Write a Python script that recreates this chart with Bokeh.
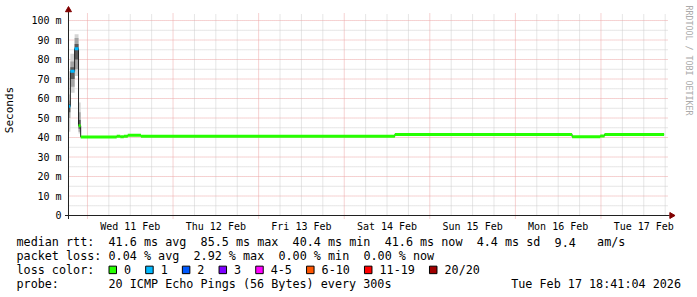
from math import pi
from bokeh.plotting import figure
from bokeh.layouts import column, row
from bokeh.models import Range1d, FixedTicker
from bokeh.core.properties import value
from bokeh.embed import file_html
from bokeh.resources import INLINE

# ---------------- data (hours since Wed 11 Feb 00:00, milliseconds) ----------------
range_start_h = -5.32
range_end_h = 162.68

seg_start_h = [-5.32, -4.8, -3.6, -2.5, -1.9, 8.2, 9.2, 10.2, 11.3, 15.0, 86.2, 135.9, 143.8, 145.0]
seg_last_end_h = 161.7
median_ms = [56.0, 74.0, 85.5, 46.0, 40.3, 40.7, 40.4, 40.7, 41.2, 40.6, 41.6, 40.4, 40.8, 41.6]
loss_count = [1, 1, 1, 0, 0, 0, 0, 0, 0, 0, 0, 0, 0, 0]

smoke_start_h = [-5.32, -4.8, -3.6, -2.5]
smoke_end_h = [-4.8, -3.6, -2.5, -1.9]
smoke_outer_lo = [43.0, 63.0, 71.5, 42.0]
smoke_outer_hi = [62.0, 83.0, 93.0, 58.0]
smoke_mid_lo = [50.0, 66.0, 75.0, 43.0]
smoke_mid_hi = [59.0, 79.0, 91.0, 53.0]
smoke_in_lo = [53.0, 70.0, 80.0, 44.5]
smoke_in_hi = [57.0, 76.0, 88.0, 49.0]

loss_labels = ["0", "1", "2", "3", "4-5", "6-10", "11-19", "20/20"]
loss_colors = ["#26ff00", "#00b8ff", "#0059ff", "#7e00ff", "#ff00ff", "#ff5500", "#ff0000", "#a00000"]

day_noon_h = [12, 36, 60, 84, 108, 132, 156]
day_labels = ["Wed 11 Feb", "Thu 12 Feb", "Fri 13 Feb", "Sat 14 Feb", "Sun 15 Feb", "Mon 16 Feb", "Tue 17 Feb"]
midnight_h = [0, 24, 48, 72, 96, 120, 144]
six_hour_h = [h for h in range(6, 163, 6) if h % 24 != 0]

y_ticks_ms = [0, 10, 20, 30, 40, 50, 60, 70, 80, 90, 100]
y_tick_labels = ["0", "10 m", "20 m", "30 m", "40 m", "50 m", "60 m", "70 m", "80 m", "90 m", "100 m"]
y_minor_ms = [5, 15, 25, 35, 45, 55, 65, 75, 85, 95]
y_top_ms = 103.6

row1_items = ["median rtt:", "41.6 ms avg", "85.5 ms max", "40.4 ms min", "41.6 ms now", "4.4 ms sd", "9.4", "am/s"]
row1_cols = [0, 13, 26, 39, 52, 65, 76, 82]
row2_items = ["packet loss:", "0.04 % avg", "2.92 % max", "0.00 % min", "0.00 % now"]
row2_cols = [0, 13, 25, 37, 49]
row3_title = "loss color:"
row4_items = ["probe:", "20 ICMP Echo Pings (56 Bytes) every 300s"]
row4_cols = [0, 13]
timestamp = "Tue Feb 17 18:41:04 2026"
y_unit_label = "Seconds"
watermark = "RRDTOOL / TOBI OETIKER"

# ---------------- pixel geometry of the reference ----------------
W = 697
H1 = 235
PL, PR, PT, PB = 66, 667, 13, 215          # rrdtool plot area
FL, FR, FT, FB = 62, 697, 0, 219           # bokeh frame (slightly larger, for arrows / watermark)
XS = (PR - PL) / (range_end_h - range_start_h)   # px per hour
YS = (PB - PT) / y_top_ms                         # px per ms
MONO = "DejaVu Sans Mono"


def px_x(px):
    return range_start_h + (px - PL) / XS


def px_y(py):
    return (PB - py) / YS


def loss_class(n):
    if n <= 3:
        return n
    if n <= 5:
        return 4
    if n <= 10:
        return 5
    if n <= 19:
        return 6
    return 7


p = figure(width=W, height=H1, x_range=Range1d(px_x(FL), px_x(FR)),
           y_range=Range1d(px_y(FB), px_y(FT)), output_backend="svg", toolbar_location=None,
           min_border_left=FL, min_border_right=W - FR, min_border_top=FT,
           min_border_bottom=H1 - FB)
p.outline_line_color = None
p.background_fill_color = "white"
p.border_fill_color = "white"
p.xgrid.visible = False
p.ygrid.visible = False

red_grid = "#eca4a4"
gray_grid = "#cccccc"

# grid lines (rrdtool style dotted), limited to the plot area
p.segment(x0=six_hour_h, x1=six_hour_h, y0=[0] * len(six_hour_h), y1=[y_top_ms] * len(six_hour_h),
          line_color=gray_grid, line_dash="1 1", line_width=1)
p.segment(x0=[range_start_h] * len(y_minor_ms), x1=[range_end_h] * len(y_minor_ms),
          y0=y_minor_ms, y1=y_minor_ms, line_color=gray_grid, line_dash="1 1", line_width=1)
p.segment(x0=midnight_h, x1=midnight_h, y0=[px_y(218)] * len(midnight_h),
          y1=[y_top_ms] * len(midnight_h), line_color=red_grid, line_dash="1 1", line_width=1)
p.segment(x0=[range_start_h] * (len(y_ticks_ms) - 1), x1=[range_end_h] * (len(y_ticks_ms) - 1),
          y0=y_ticks_ms[1:], y1=y_ticks_ms[1:], line_color=red_grid, line_dash="1 1", line_width=1)

# axes (labels only)
xa = p.xaxis[0]
xa.ticker = FixedTicker(ticks=day_noon_h)
xa.major_label_overrides = {t: l for t, l in zip(day_noon_h, day_labels)}
xa.axis_line_color = None
xa.major_tick_line_color = None
xa.major_tick_out = 0
xa.major_tick_in = 0
xa.minor_tick_line_color = None
xa.major_label_standoff = 1
xa.major_label_text_font = MONO
xa.major_label_text_font_size = "10px"
xa.major_label_text_color = "#000000"

ya = p.yaxis[0]
ya.ticker = FixedTicker(ticks=y_ticks_ms)
ya.major_label_overrides = {t: l for t, l in zip(y_ticks_ms, y_tick_labels)}
ya.axis_line_color = None
ya.major_tick_line_color = None
ya.major_tick_out = 0
ya.major_tick_in = 0
ya.minor_tick_line_color = None
ya.major_label_standoff = 3
ya.major_label_text_font = MONO
ya.major_label_text_font_size = "10px"
ya.major_label_text_color = "#000000"
ya.axis_label = y_unit_label
ya.axis_label_text_font = MONO
ya.axis_label_text_font_size = "11px"
ya.axis_label_text_font_style = "normal"
ya.axis_label_text_color = "#000000"
ya.axis_label_standoff = 12

# smoke
for lo, hi, col in ((smoke_outer_lo, smoke_outer_hi, "#d4d4d4"),
                    (smoke_mid_lo, smoke_mid_hi, "#a4a4a4"),
                    (smoke_in_lo, smoke_in_hi, "#5a5a5a")):
    p.quad(left=smoke_start_h, right=smoke_end_h, bottom=lo, top=hi,
           fill_color=col, line_color=None)

# median step line
seg_end_h = seg_start_h[1:] + [seg_last_end_h]
step_x = seg_start_h + [seg_last_end_h]
step_y = median_ms + [median_ms[-1]]
p.step(step_x, step_y, mode="after", line_color="#202020", line_width=1)

# coloured median marks
half = 1.5 / YS
p.quad(left=seg_start_h, right=seg_end_h,
       bottom=[m - half for m in median_ms], top=[m + half for m in median_ms],
       fill_color=[loss_colors[loss_class(n)] for n in loss_count], line_color=None)

# axis lines with arrow heads
p.segment(x0=[px_x(62.5), range_start_h], x1=[px_x(669), range_start_h],
          y0=[0, px_y(218.5)], y1=[0, px_y(11)], line_color="#202020", line_width=1)
p.scatter(x=[px_x(671), range_start_h], y=[0, px_y(9.5)], marker="triangle", size=6,
          angle=[-pi / 2, 0], fill_color="#800000", line_color="#800000")

# watermark
p.text(x=[px_x(688)], y=[px_y(60)], text=[watermark], angle=-pi / 2,
       text_align="center", text_baseline="middle", text_font=value(MONO),
       text_font_size=value("8.3px"), text_color="#aaaaaa")

# ---------------- legend area ----------------
H2 = 297 - H1
CW = 7.08
LX = 16
rows_y = [241.7, 255.5, 269.4, 283.3]

q = figure(width=W, height=H2, x_range=Range1d(0, W), y_range=Range1d(297, H1),
           x_axis_type=None, y_axis_type=None, output_backend="svg", toolbar_location=None,
           min_border=0, min_border_left=0, min_border_right=0, min_border_top=0,
           min_border_bottom=0)
q.outline_line_color = None
q.background_fill_color = "white"
q.border_fill_color = "white"

tx, ty, tt = [], [], []
for items, cols, yy in ((row1_items, row1_cols, rows_y[0]), (row2_items, row2_cols, rows_y[1]),
                        (row4_items, row4_cols, rows_y[3])):
    for s, c in zip(items, cols):
        tx.append(LX + c * CW)
        ty.append(yy)
        tt.append(s)
tx.append(LX)
ty.append(rows_y[2])
tt.append(row3_title)

box_x = []
xpos = 108.5
for lab in loss_labels:
    box_x.append(xpos + 3.75)
    tx.append(xpos + 15)
    ty.append(rows_y[2])
    tt.append(lab)
    xpos += 15 + len(lab) * CW + 14.6

q.text(x=tx, y=ty, text=tt, text_font=value(MONO), text_font_size=value("11.75px"),
       text_baseline="middle", text_align="left", text_color="#000000")
q.text(x=[680.5], y=[rows_y[3]], text=[timestamp], text_font=value(MONO),
       text_font_size=value("11.75px"), text_baseline="middle", text_align="right",
       text_color="#000000")
q.rect(x=box_x, y=[rows_y[2]] * len(box_x), width=7.5, height=7.5,
       fill_color=loss_colors, line_color="#000000", line_width=1)

layout = column(p, row(q, spacing=0), spacing=0)
open("out.html", "w").write(file_html(layout, INLINE))
